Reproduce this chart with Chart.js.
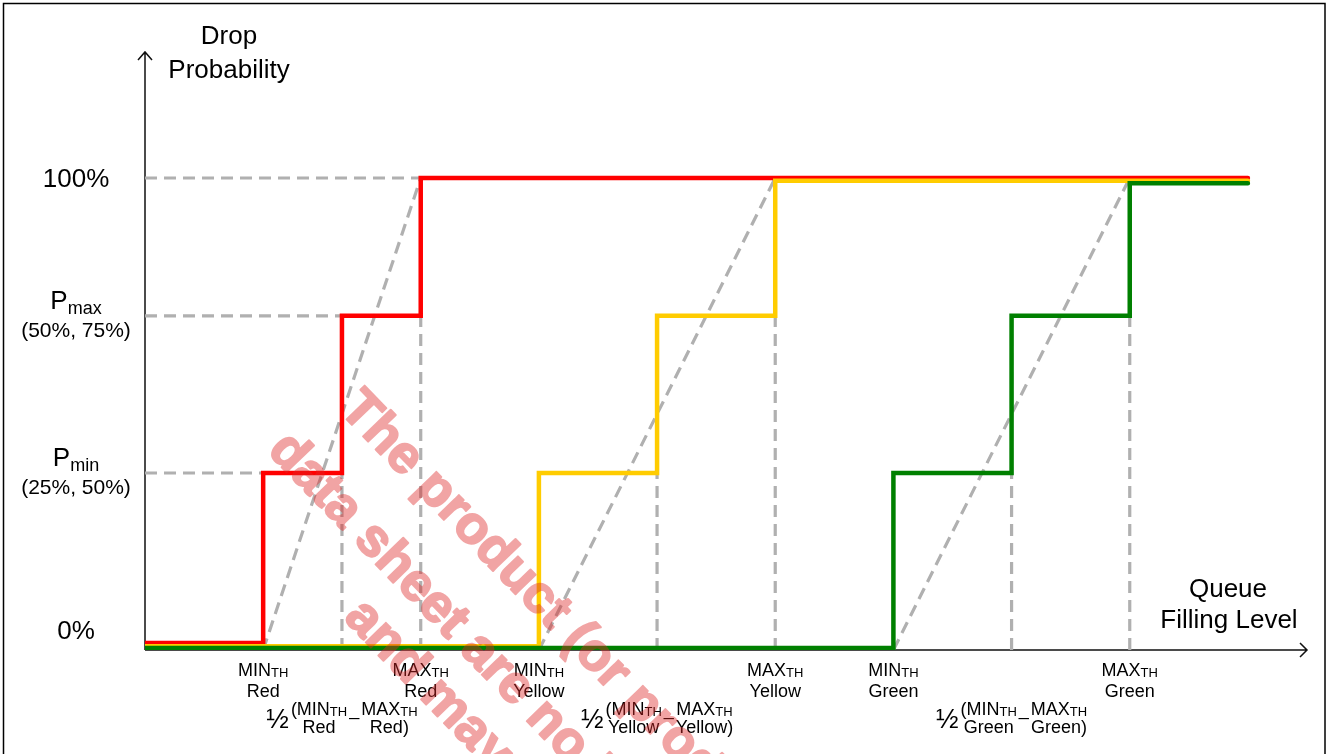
<!DOCTYPE html>
<html>
<head>
<meta charset="utf-8">
<title>Drop Probability</title>
<script src="https://cdn.jsdelivr.net/npm/chart.js@4.4.1/dist/chart.umd.min.js"></script>
<style>
  body { margin: 0; background: #fff; overflow: hidden; }
  #box { width: 1327px; height: 754px; position: relative; }
</style>
</head>
<body>
<div id="box"><canvas id="myChart"></canvas></div>
<script>
'use strict';
// thresholds on the queue filling level axis, one entry per colour
let classNames = ['Red', 'Yellow', 'Green'];
let minTh = [3, 10, 19];
let halfTh = [5, 13, 22];
let maxTh = [7, 16, 25];

// drop probability levels
let levelPmin = 37.5;
let levelPmax = 70.8;
let levelFull = 100;

// step curves (the zero/top levels are nudged apart so all three stay visible)
let redX = [0, 3, 5, 7, 28];
let redY = [1.5, 37.5, 70.8, 100, 100];
let yellowX = [0, 10, 13, 16, 28];
let yellowY = [0.8, 37.5, 70.8, 99.4, 99.4];
let greenX = [0, 19, 22, 25, 28];
let greenY = [0.4, 37.5, 70.8, 98.9, 98.9];

// y axis tick labels
let yTickValues = [100, 70.8, 37.5, 0];
let yTickText = ['100%', 'P', 'P', '0%'];
let yTickSub = ['', 'max', 'min', ''];
let yTickNote = ['', '(50%, 75%)', '(25%, 50%)', ''];

let watermarkLines = ['The product (or product series)', 'data sheet are no longer', 'and may not be'];

const FONT = '"Liberation Sans", Arial, sans-serif';
const GUIDE = '#b0b0b0';

function toPoints(xs, ys) {
    let pts = [];
    for (let i = 0; i < xs.length; i++) {
        pts.push({ x: xs[i], y: ys[i] });
    }
    return pts;
}

function stepSet(label, xs, ys, colour, order) {
    return {
        label: label,
        data: toPoints(xs, ys),
        showLine: true,
        stepped: 'before',
        borderColor: colour,
        borderWidth: 4.5,
        borderCapStyle: 'round',
        borderJoinStyle: 'miter',
        pointRadius: 0,
        order: order
    };
}

function guideSet(x0, y0, x1, y1) {
    return {
        data: [{ x: x0, y: y0 }, { x: x1, y: y1 }],
        showLine: true,
        borderColor: GUIDE,
        borderWidth: 3.2,
        borderDash: [12, 7],
        pointRadius: 0,
        order: 5
    };
}

let datasets = [];
datasets.push(stepSet('Green', greenX, greenY, '#008000', 0));
datasets.push(stepSet('Yellow', yellowX, yellowY, '#ffcc00', 1));
datasets.push(stepSet('Red', redX, redY, '#ff0000', 2));

// dashed helper lines
datasets.push(guideSet(0, levelFull, maxTh[0], levelFull));
datasets.push(guideSet(0, levelPmax, halfTh[0], levelPmax));
datasets.push(guideSet(0, levelPmin, minTh[0], levelPmin));
for (let i = 0; i < classNames.length; i++) {
    datasets.push(guideSet(minTh[i], 0, maxTh[i], levelFull));
    datasets.push(guideSet(halfTh[i], 0, halfTh[i], levelPmax));
    datasets.push(guideSet(maxTh[i], 0, maxTh[i], levelFull));
}

function measure(ctx, text, size) {
    ctx.font = size + 'px ' + FONT;
    return ctx.measureText(text).width;
}

function textSub(ctx, main, sub, cx, y, size, subSize, drop) {
    let w1 = measure(ctx, main, size);
    let w2 = measure(ctx, sub, subSize);
    let x = cx - (w1 + w2) / 2;
    ctx.textAlign = 'left';
    ctx.font = size + 'px ' + FONT;
    ctx.fillText(main, x, y);
    ctx.font = subSize + 'px ' + FONT;
    ctx.fillText(sub, x + w1, y + drop);
}

function subWidth(ctx, main, sub, size, subSize) {
    return measure(ctx, main, size) + measure(ctx, sub, subSize);
}

function centred(ctx, text, cx, y, size) {
    ctx.font = size + 'px ' + FONT;
    ctx.textAlign = 'center';
    ctx.fillText(text, cx, y);
}

// 1/2 (MIN_TH _ MAX_TH) label under the halfway threshold
function halfLabel(ctx, cx, y, name) {
    let w1 = Math.max(subWidth(ctx, '(MIN', 'TH', 18, 13), measure(ctx, name, 18));
    let w2 = Math.max(subWidth(ctx, 'MAX', 'TH', 18, 13), measure(ctx, name + ')', 18));
    let wHalf = measure(ctx, '\u00bd', 27);
    let wBar = measure(ctx, '_', 18) + 4;
    let x = cx - (wHalf + 2 + w1 + wBar + w2) / 2;
    ctx.textAlign = 'left';
    ctx.font = '27px ' + FONT;
    ctx.fillText('\u00bd', x, y + 13);
    x += wHalf + 2;
    textSub(ctx, '(MIN', 'TH', x + w1 / 2, y, 18, 13, 1);
    centred(ctx, name, x + w1 / 2, y + 18, 18);
    x += w1;
    ctx.textAlign = 'left';
    ctx.font = '18px ' + FONT;
    ctx.fillText('_', x + 2, y);
    x += wBar;
    textSub(ctx, 'MAX', 'TH', x + w2 / 2, y, 18, 13, 1);
    centred(ctx, name + ')', x + w2 / 2, y + 18, 18);
}

let extras = {
    id: 'extras',
    beforeDatasetsDraw(chart) {
        let ctx = chart.ctx;
        let a = chart.chartArea;
        ctx.save();
        // outer frame
        ctx.strokeStyle = '#000';
        ctx.lineWidth = 1.5;
        ctx.strokeRect(3.5, 3.5, 1321.5, 800);
        // axes with open arrow heads
        ctx.strokeStyle = '#111';
        ctx.lineWidth = 1.5;
        ctx.beginPath();
        ctx.moveTo(a.left, a.bottom);
        ctx.lineTo(a.left, a.top);
        ctx.moveTo(a.left - 7, a.top + 8);
        ctx.lineTo(a.left, a.top);
        ctx.lineTo(a.left + 7, a.top + 8);
        ctx.moveTo(a.left, a.bottom);
        ctx.lineTo(a.right, a.bottom);
        ctx.moveTo(a.right - 7, a.bottom - 7);
        ctx.lineTo(a.right, a.bottom);
        ctx.lineTo(a.right - 7, a.bottom + 7);
        ctx.stroke();
        ctx.restore();
    },
    afterDatasetsDraw(chart) {
        let ctx = chart.ctx;
        let a = chart.chartArea;
        let xs = chart.scales.x;
        let ys = chart.scales.y;
        ctx.save();
        ctx.fillStyle = '#000';
        ctx.textBaseline = 'alphabetic';

        // axis titles
        centred(ctx, 'Drop', a.left + 84, 44, 26);
        centred(ctx, 'Probability', a.left + 84, 78, 26);
        centred(ctx, 'Queue', 1228, 597, 26);
        centred(ctx, 'Filling Level', 1229, 628, 26);

        // y tick labels
        for (let i = 0; i < yTickValues.length; i++) {
            let py = ys.getPixelForValue(yTickValues[i]);
            if (yTickSub[i]) {
                textSub(ctx, yTickText[i], yTickSub[i], 76, py - 7, 26, 18, 5);
                centred(ctx, yTickNote[i], 76, py + 21, 21);
            } else if (yTickValues[i] === 0) {
                centred(ctx, yTickText[i], 76, py - 11, 26);
            } else {
                centred(ctx, yTickText[i], 76, py + 9, 26);
            }
        }

        // threshold labels along the x axis
        for (let i = 0; i < classNames.length; i++) {
            let pMin = xs.getPixelForValue(minTh[i]);
            let pMax = xs.getPixelForValue(maxTh[i]);
            let pHalf = xs.getPixelForValue(halfTh[i]);
            textSub(ctx, 'MIN', 'TH', pMin, a.bottom + 26, 18, 13, 1);
            centred(ctx, classNames[i], pMin, a.bottom + 47, 18);
            textSub(ctx, 'MAX', 'TH', pMax, a.bottom + 26, 18, 13, 1);
            centred(ctx, classNames[i], pMax, a.bottom + 47, 18);
            halfLabel(ctx, pHalf, a.bottom + 65, classNames[i]);
        }
        ctx.restore();
    },
    afterDraw(chart) {
        // diagonal notice printed across the figure, drawn opaque on its own
        // layer and then laid over the chart translucently
        let off = document.createElement('canvas');
        off.width = chart.canvas.width;
        off.height = chart.canvas.height;
        let octx = off.getContext('2d');
        octx.rotate(46 * Math.PI / 180);
        octx.fillStyle = 'rgb(222, 40, 40)';
        octx.strokeStyle = 'rgb(222, 40, 40)';
        octx.lineWidth = 2;
        octx.lineJoin = 'round';
        octx.font = 'bold 53px ' + FONT;
        let spots = [[530, 42], [510, 122], [683, 183]];
        for (let i = 0; i < watermarkLines.length; i++) {
            octx.fillText(watermarkLines[i], spots[i][0], spots[i][1]);
            octx.strokeText(watermarkLines[i], spots[i][0], spots[i][1]);
        }
        let ctx = chart.ctx;
        ctx.save();
        ctx.globalAlpha = 0.42;
        ctx.drawImage(off, 0, 0);
        ctx.restore();
    }
};

let ctx = document.getElementById('myChart').getContext('2d');
let chart = new Chart(ctx, {
    type: 'scatter',
    data: { datasets: datasets },
    options: {
        responsive: true,
        maintainAspectRatio: false,
        animation: false,
        layout: { padding: { left: 145, right: 20, top: 52, bottom: 104 } },
        scales: {
            x: { type: 'linear', min: 0, max: 29.5, display: false },
            y: { min: 0, max: 126.7, display: false }
        },
        plugins: {
            legend: { display: false },
            tooltip: { enabled: false }
        }
    },
    plugins: [extras]
});
</script>
</body>
</html>
